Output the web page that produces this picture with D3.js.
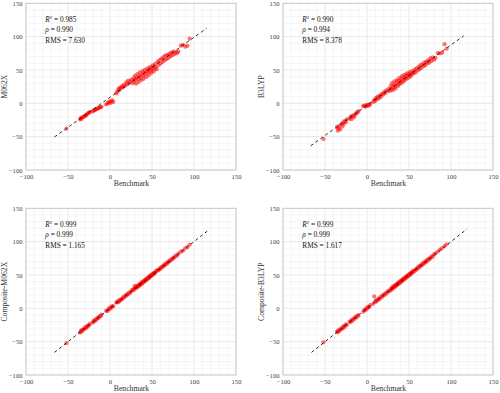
<!DOCTYPE html>
<html>
<head>
<meta charset="utf-8">
<script src="https://cdn.jsdelivr.net/npm/d3@7"></script>
<style>
  body { margin: 0; background: #fff; }
  svg { display: block; }
</style>
</head>
<body>
<svg id="chart" width="500" height="393"></svg>
<script>
// benchmark values, shared by all four panels
var benchmark = [
  -51.8,
  -35.6, -34.8, -34.0, -33.1, -31.9, -30.4, -29.2, -28.5, -27.6, -26.3, -25.1, -24.0,
  -20.8, -19.5, -18.4, -17.6, -16.3, -15.0, -13.8, -12.5, -11.2, -10.1,
  -4.6, -3.2, -1.9, -0.8, 0.4, 1.5, 2.7, 3.9,
  7.5, 8.6, 9.8, 10.7, 11.6, 12.8, 14.1, 15.3, 16.5, 17.8, 19.2, 20.3, 21.7, 22.9, 24.4, 25.8,
  27.3, 28.1, 28.9, 29.6, 30.4, 31.1, 31.9, 32.6, 33.4, 34.1, 34.9, 35.6, 36.4, 37.1, 37.9, 38.6,
  39.4, 40.1, 40.9, 41.6, 42.4, 43.1, 43.9, 44.6, 45.4, 46.1, 46.9, 47.6, 48.4, 49.1, 49.9, 50.6,
  51.4, 52.1, 52.9, 53.8, 54.7, 55.6,
  56.8, 57.9, 59.0, 60.2, 61.3, 62.5, 63.6, 64.8, 65.9, 67.1, 68.2, 69.4, 70.5, 71.7, 72.8, 74.0,
  75.3, 76.7, 78.2, 79.8, 81.4,
  84.2, 86.9, 89.5, 92.3, 94.8
];

var m062x = [
  -38.0,
  -24.1, -22.0, -23.5, -21.2, -20.4, -19.6, -18.9, -17.2, -16.5, -15.1, -14.2, -13.0,
  -12.1, -11.0, -10.2, -9.5, -8.8, -8.0, -7.1, -6.6, -5.9, -5.2,
  -1.8, -0.5, 1.2, 2.4, 0.3, 3.1, 4.6, 1.8,
  14.8, 17.2, 21.5, 19.3, 23.6, 22.1, 25.4, 24.2, 27.8, 26.0, 31.5, 28.4, 34.2, 30.1, 33.0, 35.6,
  30.2, 37.5, 33.1, 41.2, 35.8, 29.4, 38.6, 44.0, 36.2, 31.8, 40.9, 46.3, 38.1, 34.6, 43.2, 48.5,
  41.0, 36.9, 45.7, 50.2, 43.8, 39.5, 48.1, 52.6, 46.2, 42.0, 50.9, 54.3, 48.6, 45.3, 53.2, 56.8,
  51.0, 47.9, 55.4, 59.1, 53.6, 50.8,
  62.4, 57.3, 64.8, 59.6, 67.2, 62.0, 69.5, 64.3, 71.8, 66.2, 72.4, 68.0, 74.1, 70.3, 76.2, 71.9,
  77.5, 73.6, 76.8, 75.2, 77.9,
  86.5, 87.8, 84.9, 86.2, 97.0
];

var b3lyp = [
  -53.5,
  -35.2, -41.0, -37.5, -33.8, -39.2, -31.0, -34.6, -28.4, -30.9, -26.2, -28.3, -23.9,
  -22.9, -20.1, -23.8, -19.4, -18.2, -20.6, -16.5, -14.8, -13.1, -11.6,
  -4.2, -3.5, -5.1, -2.6, -4.0, -1.8, -3.2, -0.9,
  2.1, 5.3, 3.4, 8.2, 6.0, 10.1, 7.4, 12.0, 9.6, 14.2, 13.0, 16.8, 15.2, 19.6, 18.1, 21.4,
  18.6, 25.3, 21.0, 29.8, 23.2, 19.8, 27.4, 33.1, 24.9, 22.4, 30.6, 35.0, 28.2, 26.1, 33.7, 38.2,
  31.0, 29.4, 36.3, 41.0, 34.2, 32.0, 39.1, 42.6, 37.4, 35.2, 41.8, 44.9, 40.1, 38.0, 43.6, 46.8,
  42.0, 40.3, 45.1, 48.4, 44.2, 46.0,
  50.6, 46.1, 52.4, 49.2, 54.8, 51.0, 57.3, 53.1, 58.4, 55.6, 60.9, 57.0, 62.2, 59.8, 64.5, 61.1,
  67.3, 63.4, 69.0, 65.2, 68.1,
  75.4, 74.8, 76.0, 88.7, 82.0
];

var compositeM062x = [
  -52.3,
  -36.4, -33.9, -35.1, -32.0, -32.8, -29.6, -30.3, -27.4, -28.7, -25.5, -26.0, -23.2,
  -21.5, -18.7, -19.6, -16.8, -17.2, -14.1, -14.9, -11.9, -12.0, -9.4,
  -3.9, -4.1, -1.0, -1.6, 1.3, 0.7, 3.5, 3.0,
  8.6, 10.2, 9.0, 11.9, 10.8, 13.5, 13.2, 16.4, 15.7, 18.9, 18.3, 21.2, 20.9, 23.8, 23.5, 26.9,
  28.1, 27.2, 30.3, 33.8, 31.2, 30.0, 33.1, 31.7, 34.5, 33.2, 35.8, 34.7, 37.5, 36.2, 38.9, 37.7,
  40.5, 39.2, 41.8, 40.7, 43.4, 42.3, 44.8, 43.6, 46.4, 45.2, 47.8, 46.8, 49.5, 48.3, 50.8, 49.9,
  52.3, 51.3, 53.7, 53.0, 55.6, 56.3,
  57.5, 57.0, 59.9, 59.3, 62.0, 61.8, 64.5, 64.0, 66.7, 66.2, 69.1, 68.6, 71.3, 70.9, 73.6, 73.3,
  76.2, 75.9, 78.9, 79.1, 82.0,
  84.9, 86.3, 90.1, 91.8, 95.6
];

var compositeB3lyp = [
  -51.0,
  -34.7, -36.0, -33.1, -34.2, -31.0, -31.5, -28.4, -29.6, -26.7, -27.5, -24.2, -25.0,
  -20.0, -20.6, -17.5, -18.7, -15.4, -16.1, -12.9, -13.6, -10.4, -11.0,
  -5.3, -2.4, -2.8, 0.1, -0.4, 2.4, 1.9, 4.8,
  6.7, 17.9, 10.7, 9.8, 12.6, 11.9, 15.0, 14.3, 17.5, 16.8, 20.1, 19.4, 22.6, 22.0, 25.3, 24.9,
  26.4, 29.0, 28.0, 30.6, 29.5, 32.8, 31.0, 33.6, 32.5, 35.2, 34.0, 36.7, 35.5, 38.2, 37.0, 39.7,
  38.5, 41.2, 40.0, 42.7, 41.5, 44.2, 43.0, 45.7, 44.5, 47.2, 46.0, 48.7, 47.5, 50.2, 49.0, 51.7,
  50.5, 53.2, 52.0, 54.9, 53.8, 56.7,
  55.9, 59.0, 58.1, 61.3, 60.4, 63.6, 62.7, 65.9, 65.0, 68.2, 67.3, 70.5, 69.6, 72.8, 71.9, 75.1,
  74.4, 77.8, 77.3, 80.9, 82.5,
  85.0, 88.1, 90.4, 93.2, 96.1
];

var panelLabels = ["M062X", "B3LYP", "Composite-M062X", "Composite-B3LYP"];
var r2Values = ["0.985", "0.990", "0.999", "0.999"];
var rhoValues = ["0.990", "0.994", "0.999", "0.999"];
var rmsValues = ["7.630", "8.378", "1.165", "1.617"];
// fitted line: [slope, intercept] and x extent
var fitLines = [[0.90, 9.0], [0.905, -3.0], [1.0, 0.0], [1.0, 0.0]];
var fitExtents = [[-66, 115], [-67, 115], [-66, 118], [-66, 119]];
var tickValues = [-100, -50, 0, 50, 100, 150];

var series = [m062x, b3lyp, compositeM062x, compositeB3lyp];

var FONT = "'Liberation Serif', 'Times New Roman', serif";
var svg = d3.select("#chart").attr("font-family", FONT);
var colLeft = [26, 283], rowTop = [3.3, 208.3];
var pw = 210, ph = 166.7;

series.forEach(function (ys, i) {
  var left = colLeft[i % 2], top = rowTop[Math.floor(i / 2)];
  var x = d3.scaleLinear().domain([-100, 150]).range([0, pw]);
  var y = d3.scaleLinear().domain([-100, 150]).range([ph, 0]);

  var g = svg.append("g").attr("transform", "translate(" + left + "," + top + ")");

  // minor grid every 10, major every 50
  var minor = d3.range(-100, 151, 10);
  g.append("g").selectAll("line").data(minor).enter().append("line")
    .attr("x1", d => x(d)).attr("x2", d => x(d)).attr("y1", 0).attr("y2", ph)
    .attr("stroke", d => d % 50 === 0 ? "#e2e2e2" : "#f2f2f2").attr("stroke-width", 0.8);
  g.append("g").selectAll("line").data(minor).enter().append("line")
    .attr("y1", d => y(d)).attr("y2", d => y(d)).attr("x1", 0).attr("x2", pw)
    .attr("stroke", d => d % 50 === 0 ? "#e2e2e2" : "#f2f2f2").attr("stroke-width", 0.8);

  // axes
  var fmt = d => d < 0 ? "\u2212" + Math.abs(d) : d;
  var gx = g.append("g").attr("transform", "translate(0," + ph + ")")
    .call(d3.axisBottom(x).tickValues(tickValues).tickSize(0).tickPadding(4).tickFormat(fmt));
  var gy = g.append("g")
    .call(d3.axisLeft(y).tickValues(tickValues).tickSize(0).tickPadding(3.5).tickFormat(fmt));
  [gx, gy].forEach(function (a) {
    a.attr("font-family", FONT).attr("font-size", 6.6);
    a.select(".domain").remove();
    a.selectAll("text").attr("fill", "#404040");
  });

  g.append("rect").attr("width", pw).attr("height", ph)
    .attr("fill", "none").attr("stroke", "#c4c4c4").attr("stroke-width", 0.8);

  // points
  g.append("g").selectAll("circle").data(benchmark).enter().append("circle")
    .attr("cx", d => x(d)).attr("cy", (d, j) => y(ys[j]))
    .attr("r", 2.1).attr("fill", "#ff0000").attr("fill-opacity", 0.55);

  // fit line
  var fl = fitLines[i], fe = fitExtents[i];
  g.append("line")
    .attr("x1", x(fe[0])).attr("y1", y(fl[0] * fe[0] + fl[1]))
    .attr("x2", x(fe[1])).attr("y2", y(fl[0] * fe[1] + fl[1]))
    .attr("stroke", "#111").attr("stroke-width", 0.9).attr("stroke-dasharray", "3,3");

  // statistics
  var tx = x(-77), fs = 7.3;
  var t1 = g.append("text").attr("x", tx).attr("y", 18.5).attr("font-size", fs).attr("fill", "#111");
  t1.append("tspan").attr("font-style", "italic").text("R");
  t1.append("tspan").attr("font-size", 4.8).attr("dy", -3).text("2");
  t1.append("tspan").attr("dy", 3).text(" = " + r2Values[i]);
  var t2 = g.append("text").attr("x", tx).attr("y", 29.2).attr("font-size", fs).attr("fill", "#111");
  t2.append("tspan").attr("font-style", "italic").text("\u03c1");
  t2.append("tspan").text(" = " + rhoValues[i]);
  g.append("text").attr("x", tx).attr("y", 39.9).attr("font-size", fs).attr("fill", "#111")
    .text("RMS = " + rmsValues[i]);

  // axis labels
  g.append("text").attr("x", pw / 2 + 0.5).attr("y", ph + 16.3).attr("text-anchor", "middle")
    .attr("font-size", 7.7).attr("fill", "#333").text("Benchmark");
  g.append("text").attr("transform", "translate(" + (-19) + "," + (ph / 2) + ") rotate(-90)")
    .attr("text-anchor", "middle").attr("font-size", 7.7).attr("fill", "#333").text(panelLabels[i]);
});
</script>
</body>
</html>
